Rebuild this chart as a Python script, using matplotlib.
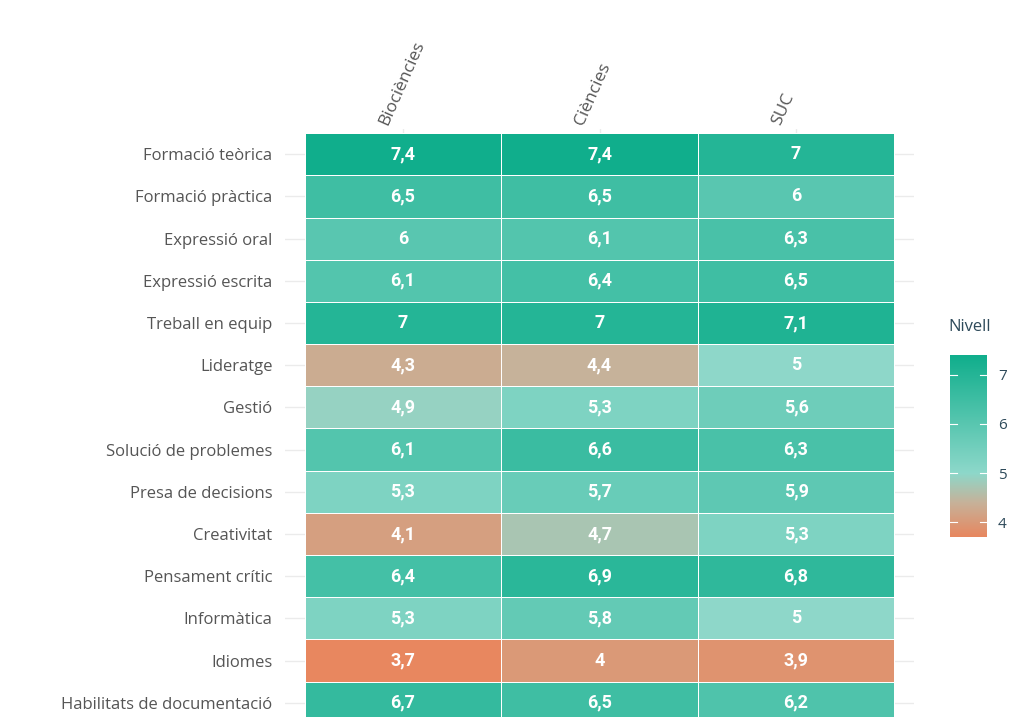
import numpy as np
import matplotlib
matplotlib.use('Agg')
import matplotlib.pyplot as plt
from matplotlib.colors import LinearSegmentedColormap, Normalize

# --- Dades ---
titulacions = ['Biociències', 'Ciències', 'SUC']
competencies = ['Formació teòrica', 'Formació pràctica', 'Expressió oral',
                'Expressió escrita', 'Treball en equip', 'Lideratge', 'Gestió',
                'Solució de problemes', 'Presa de decisions', 'Creativitat',
                'Pensament crític', 'Informàtica', 'Idiomes',
                'Habilitats de documentació']
biociencies = [7.4, 6.5, 6.0, 6.1, 7.0, 4.3, 4.9, 6.1, 5.3, 4.1, 6.4, 5.3, 3.7, 6.7]
ciencies = [7.4, 6.5, 6.1, 6.4, 7.0, 4.4, 5.3, 6.6, 5.7, 4.7, 6.9, 5.8, 4.0, 6.5]
suc = [7.0, 6.0, 6.3, 6.5, 7.1, 5.0, 5.6, 6.3, 5.9, 5.3, 6.8, 5.0, 3.9, 6.2]
cbar_ticks = [4, 5, 6, 7]

valors = np.array([biociencies, ciencies, suc]).T
vmin, vmax = 3.7, 7.4

# Escala de colors (taronja -> menta -> verd)
nodes = [(3.7, '#E8875F'), (4.4, '#C6B29A'), (5.0, '#8DD8CA'), (7.4, '#10AE8C')]
cmap = LinearSegmentedColormap.from_list(
    'nivell', [((v - vmin) / (vmax - vmin), c) for v, c in nodes])
norm = Normalize(vmin, vmax)

FONT = 'Open Sans'
GRIS = '#555555'
TITOL_CB = '#2E4A5A'

fig = plt.figure(figsize=(10.18, 7.17), dpi=100)
ax = fig.add_axes([285 / 1018, -11 / 717, 629 / 1018, 599 / 717])

n_rows = len(competencies)
n_cols = len(titulacions)

# graella de fons
for i in range(n_rows):
    ax.axhline(i, color='#EBEBEB', lw=1, zorder=0)
for j in range(n_cols):
    ax.axvline(j, color='#EBEBEB', lw=1, zorder=0)

xe = np.arange(n_cols + 1) - 0.5
ye = np.arange(n_rows + 1) - 0.5
ax.pcolormesh(xe, ye, valors, cmap=cmap, norm=norm, edgecolor='white',
              linewidth=0.5, zorder=1)

for i in range(n_rows):
    for j in range(n_cols):
        v = valors[i, j]
        txt = (f'{v:.0f}' if abs(v - round(v)) < 1e-9 else f'{v:.1f}').replace('.', ',')
        ax.text(j, i, txt, ha='center', va='center', color='white',
                fontsize=13, fontweight='bold', family='Roboto', zorder=2)

ax.set_xlim(-0.6, n_cols - 0.4)
ax.set_ylim(n_rows - 0.4, -0.6)
ax.set_yticks(range(n_rows))
ax.set_yticklabels(competencies, family=FONT, fontsize=12, color=GRIS)
ax.set_xticks([])
ax.tick_params(axis='y', length=0, pad=9)
for s in ax.spines.values():
    s.set_visible(False)

# etiquetes de columna giratòries
for j, t in enumerate(titulacions):
    ax.text(j - 0.1, -0.7, t, rotation=66, rotation_mode='anchor',
            ha='left', va='center', family=FONT, fontsize=12.5, color=GRIS,
            clip_on=False)

# barra de color
cax = fig.add_axes([950 / 1018, 180 / 717, 37 / 1018, 182 / 717])
grad = np.linspace(vmin, vmax, 256).reshape(-1, 1)
cax.imshow(grad, cmap=cmap, norm=norm, aspect='auto', origin='lower',
           extent=[0, 1, vmin, vmax])
for t in cbar_ticks:
    cax.plot([0, 0.2], [t, t], color='white', lw=0.8)
    cax.plot([0.8, 1], [t, t], color='white', lw=0.8)
cax.set_xlim(0, 1)
cax.set_ylim(vmin, vmax)
cax.set_xticks([])
cax.yaxis.tick_right()
cax.set_yticks(cbar_ticks)
cax.set_yticklabels([str(t) for t in cbar_ticks], family=FONT, fontsize=11,
                    color=TITOL_CB)
cax.tick_params(axis='y', length=0, pad=8)
for s in cax.spines.values():
    s.set_visible(False)
fig.text(948 / 1018, 1 - 327 / 717, 'Nivell', family=FONT, fontsize=12,
         color=TITOL_CB, ha='left', va='center')

fig.savefig('out.png', dpi=100)
